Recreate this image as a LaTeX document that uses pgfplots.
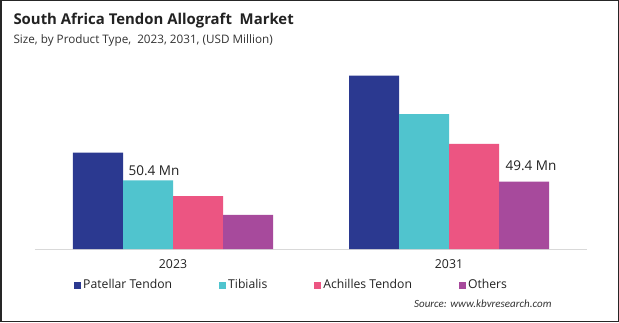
\documentclass[border=0pt]{standalone}
\usepackage{fontspec}
\setmainfont{Open Sans}
\newfontfamily\srcfont{Carlito}
\usepackage{pgfplots}
\pgfplotsset{compat=1.18}
\definecolor{cPat}{RGB}{43,57,144}
\definecolor{cTib}{RGB}{80,196,206}
\definecolor{cAch}{RGB}{236,85,130}
\definecolor{cOth}{RGB}{167,74,156}
\definecolor{txt}{RGB}{34,34,34}
\begin{document}
\begin{tikzpicture}[x=1pt,y=1pt]
\useasboundingbox (0,0) rectangle (619,322);
\fill[white] (0,0) rectangle (619,322);
\begin{axis}[
  at={(35pt,73pt)}, anchor=south west,
  scale only axis, width=552pt, height=190.7pt,
  xmin=-0.5, xmax=1.5, ymin=0, ymax=140,
  ybar=0pt, bar width=50pt,
  axis x line=bottom, axis y line=none,
  x axis line style={-, draw=black!15, line width=0.8pt},
  xtick={0,1}, xticklabels={2023,2031},
  major tick length=0pt,
  ticklabel style={font=\fontsize{12.3}{14}\selectfont, text=txt},
  xticklabel style={yshift=-7pt},
  legend columns=4,
  legend style={at={(0.0707,-0.1888)}, anchor=west, draw=none, inner sep=0pt,
    font=\fontsize{12.2}{14}\selectfont, text=txt,
    /tikz/every even column/.append style={column sep=45pt}},
  legend image code/.code={\fill[#1] (0pt,-3.5pt) rectangle (7pt,3.5pt);},
]
\addplot[fill=cPat, draw=none] coordinates {(0,70.7) (1,127.2)};
\addplot[fill=cTib, draw=none] coordinates {(0,50.4) (1,99.1)};
\addplot[fill=cAch, draw=none] coordinates {(0,38.9) (1,77.1)};
\addplot[fill=cOth, draw=none] coordinates {(0,25.0) (1,49.4)};
\legend{Patellar Tendon, Tibialis, Achilles Tendon, Others}
\node[font=\fontsize{13.5}{15}\selectfont, text=txt] at (axis cs:0,50.4) [xshift=-19pt, yshift=10pt] {50.4 Mn};
\node[font=\fontsize{13.5}{15}\selectfont, text=txt] at (axis cs:1,49.4) [xshift=82pt, yshift=16pt] {49.4 Mn};
\end{axis}
\node[anchor=west, font=\bfseries\fontsize{14.9}{17}\selectfont, text=txt] at (10,301) {South Africa Tendon Allograft\ \ Market};
\node[anchor=west, font=\fontsize{11.7}{14}\selectfont, text=black!80] at (10,282) {Size, by Product Type,\ \ 2023, 2031, (USD Million)};
\node[anchor=east, font=\srcfont\itshape\fontsize{11}{13}\selectfont, text=black!80] at (555,18) {Source: www.kbvresearch.com};
\draw[line width=1.5pt, color=black!85] (0.75,0.75) rectangle (618.25,321.25);
\end{tikzpicture}
\end{document}
